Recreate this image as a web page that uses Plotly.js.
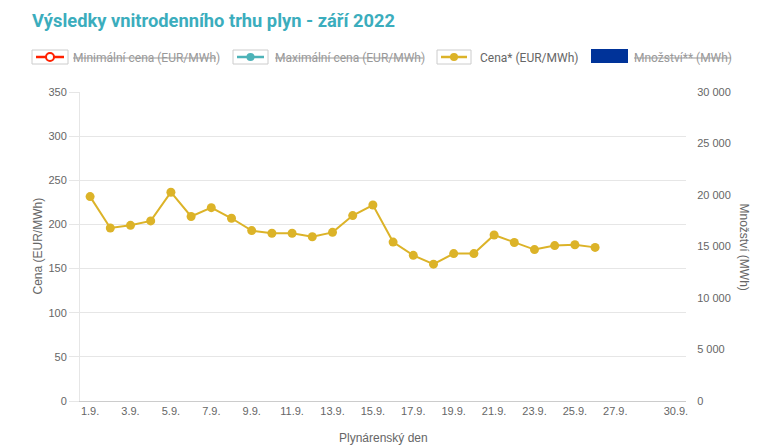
<!DOCTYPE html>
<html>
<head>
<meta charset="utf-8">
<script src="https://cdn.plot.ly/plotly-3.0.1.min.js"></script>
<style>html,body{margin:0;padding:0;background:#fff;}#chart{width:780px;height:445px;}</style>
</head>
<body>
<div id="chart"></div>
<script>
// ---- data ----
var tickDays = [1, 3, 5, 7, 9, 11, 13, 15, 17, 19, 21, 23, 25, 27, 30];
var tickLabels = ['1.9.', '3.9.', '5.9.', '7.9.', '9.9.', '11.9.', '13.9.', '15.9.', '17.9.', '19.9.', '21.9.', '23.9.', '25.9.', '27.9.', '30.9.'];
var priceDays = [1, 2, 3, 4, 5, 6, 7, 8, 9, 10, 11, 12, 13, 14, 15, 16, 17, 18, 19, 20, 21, 22, 23, 24, 25, 26];
var price = [231.5, 196, 199, 204, 236.5, 209, 219, 207, 193, 190, 190, 186, 191, 210, 222, 180, 165, 155, 167, 167, 188, 179.5, 171.5, 176, 177, 174];
// hidden series (switched off in the legend)
var minPrice = [];
var maxPrice = [];
var quantity = [];
var legendNames = ['Minimální cena (EUR/MWh)', 'Maximální cena (EUR/MWh)', 'Cena* (EUR/MWh)', 'Množství** (MWh)'];

// ---- layout helpers ----
var L = 80, R = 686, T = 92, B = 401;
function px(x) { return (x - L) / (R - L); }
function py(y) { return (B - y) / (B - T); }

var gold = '#dcb328';
var traces = [
  {x: priceDays, y: minPrice, type: 'scatter', mode: 'lines+markers', visible: false, line: {color: '#ff2000'}},
  {x: priceDays, y: maxPrice, type: 'scatter', mode: 'lines+markers', visible: false, line: {color: '#4db3b8'}},
  {x: priceDays, y: quantity, type: 'bar', yaxis: 'y2', marker: {color: '#003399'}, hoverinfo: 'skip'},
  {x: priceDays, y: price, type: 'scatter', mode: 'lines+markers', name: legendNames[2],
   line: {color: gold, width: 2}, marker: {color: gold, size: 9}}
];

var hiddenCol = '#999999';
var shapes = [];
var annotations = [];
function box(x0, x1) {
  shapes.push({type: 'rect', xref: 'paper', yref: 'paper', x0: px(x0), x1: px(x1), y0: py(64), y1: py(50),
    line: {color: '#cccccc', width: 1}, fillcolor: '#ffffff'});
}
function sym(x0, x1, col, hollow) {
  shapes.push({type: 'line', xref: 'paper', yref: 'paper', x0: px(x0 + 4), x1: px(x1 - 4), y0: py(57), y1: py(57),
    line: {color: col, width: 2.5}});
  var c = (x0 + x1) / 2;
  shapes.push({type: 'circle', xref: 'paper', yref: 'paper', x0: px(c - 4), x1: px(c + 4), y0: py(61), y1: py(53),
    line: {color: col, width: hollow ? 2 : 0}, fillcolor: hollow ? '#ffffff' : col});
}
function label(x, text, col) {
  annotations.push({xref: 'paper', yref: 'paper', x: px(x), y: py(57.5), xanchor: 'left', yanchor: 'middle',
    text: text, showarrow: false, font: {family: 'Roboto', size: 12, color: col}});
}
function strike(x0, x1) {
  shapes.push({type: 'line', xref: 'paper', yref: 'paper', x0: px(x0), x1: px(x1), y0: py(58), y1: py(58),
    line: {color: hiddenCol, width: 1}});
}
box(32, 68); sym(32, 68, '#ff2000', true); label(71, legendNames[0], hiddenCol); strike(73, 216);
box(233, 268); sym(233, 268, '#4db3b8', false); label(273, legendNames[1], hiddenCol); strike(275, 423);
box(437, 471); sym(437, 471, gold, false); label(478, legendNames[2], '#666666');
shapes.push({type: 'rect', xref: 'paper', yref: 'paper', x0: px(591), x1: px(628), y0: py(63), y1: py(49),
  line: {width: 0}, fillcolor: '#003399'});
label(632, legendNames[3], hiddenCol); strike(634, 731);

var axisFont = {family: 'Liberation Sans, Arial, sans-serif', size: 11, color: '#666666'};
annotations.push({xref: 'paper', yref: 'paper', x: 0.5, y: py(438), xanchor: 'center', yanchor: 'middle',
  text: 'Plynárenský den', showarrow: false, font: {family: 'Liberation Sans, Arial, sans-serif', size: 12, color: '#666666'}});
annotations.push({xref: 'paper', yref: 'paper', x: px(37), y: 0.5, xanchor: 'center', yanchor: 'middle', textangle: -90,
  text: 'Cena (EUR/MWh)', showarrow: false, font: {family: 'Liberation Sans, Arial, sans-serif', size: 12, color: '#666666'}});
annotations.push({xref: 'paper', yref: 'paper', x: px(744), y: 0.5, xanchor: 'center', yanchor: 'middle', textangle: 90,
  text: 'Množství (MWh)', showarrow: false, font: {family: 'Liberation Sans, Arial, sans-serif', size: 12, color: '#666666'}});

var layout = {
  width: 780, height: 445,
  margin: {l: L, r: 780 - R, t: T, b: 445 - B, pad: 0},
  paper_bgcolor: '#ffffff', plot_bgcolor: '#ffffff',
  showlegend: false,
  separators: ', ',
  title: {text: 'Výsledky vnitrodenního trhu plyn - září 2022', xref: 'container', yref: 'container',
    x: 32 / 780, xanchor: 'left', y: 1 - 21 / 445, yanchor: 'middle',
    font: {family: 'Roboto', size: 18.3, color: '#3badbd', weight: 'bold'}},
  xaxis: {range: [0.5, 30.5], tickmode: 'array', tickvals: tickDays, ticktext: tickLabels,
    showgrid: false, zeroline: false, showline: true, linecolor: '#cccccc', linewidth: 1,
    ticks: '', tickfont: axisFont, fixedrange: true},
  yaxis: {range: [0, 350], dtick: 50, tick0: 0, gridcolor: '#e6e6e6', gridwidth: 1, zeroline: false,
    showline: true, linecolor: '#e6e6e6', ticks: 'outside', ticklen: 10, tickcolor: '#e6e6e6',
    tickfont: axisFont, fixedrange: true},
  yaxis2: {range: [0, 30000], dtick: 5000, tick0: 0, overlaying: 'y', side: 'right', showgrid: false,
    zeroline: false, showline: false, ticks: 'outside', ticklen: 8, tickcolor: 'rgba(0,0,0,0)',
    tickformat: ',d', tickfont: axisFont, fixedrange: true},
  shapes: shapes,
  annotations: annotations
};
Plotly.newPlot('chart', traces, layout, {displayModeBar: false, staticPlot: true});
</script>
</body>
</html>
